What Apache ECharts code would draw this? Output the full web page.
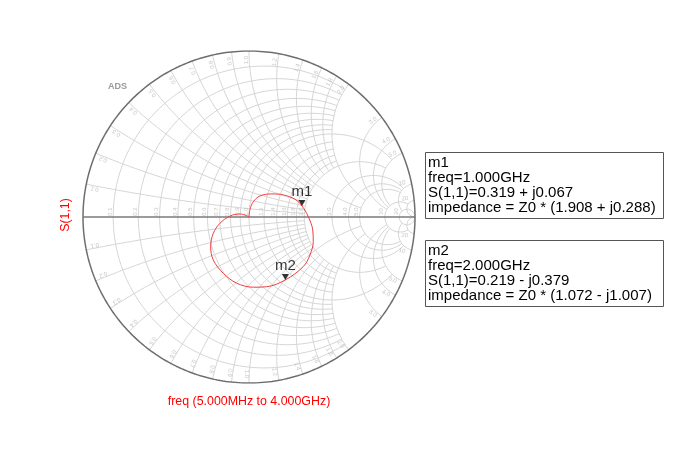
<!DOCTYPE html>
<html><head><meta charset="utf-8">
<script src="https://cdn.jsdelivr.net/npm/echarts@6/dist/echarts.min.js"></script>
<style>html,body{margin:0;padding:0;background:#fff}#c{width:682px;height:455px}</style>
</head><body><div id="c"></div>
<script>
// Smith chart grid values and the reactance/resistance limit each grid line is drawn to
const R_VALUES = [0.1,0.2,0.3,0.4,0.5,0.6,0.7,0.8,0.9,1.0,1.2,1.4,1.6,1.8,2.0,3.0,4.0,5.0,10,20];
const R_LIMITS = [2,2,2,2,2,2,2,2,2,5,2,2,2,2,5,10,10,10,20,Infinity];
const X_VALUES = [0.1,0.2,0.3,0.4,0.5,0.6,0.7,0.8,0.9,1.0,1.2,1.4,1.6,1.8,2.0,3.0,4.0,5.0,10,20];
const X_LIMITS = [2,2,2,2,2,2,2,2,2,5,2,2,2,2,5,10,10,10,20,Infinity];
const TICK_LABELS = ['0.1','0.2','0.3','0.4','0.5','0.6','0.7','0.8','0.9','1.0','1.2','1.4','1.6','1.8','2.0','3.0','4.0','5.0','10','20'];

// S(1,1) trace, 5 MHz to 4 GHz (real / imaginary parts of reflection coefficient)
const S11_RE = [0.000,0.006,0.026,0.066,0.137,0.207,0.277,0.319,0.357,0.384,0.387,0.367,0.327,0.219,0.107,0.026,-0.074,-0.155,-0.215,-0.231,-0.215,-0.175,-0.114,-0.054,-0.014,0.000];
const S11_IM = [0.000,0.046,0.092,0.127,0.139,0.133,0.107,0.067,0.002,-0.078,-0.149,-0.229,-0.299,-0.379,-0.420,-0.423,-0.399,-0.339,-0.259,-0.179,-0.098,-0.038,0.006,0.018,0.008,0.000];

// markers
const MARKER_NAMES = ['m1','m2'];
const MARKER_FREQ = ['1.000GHz','2.000GHz'];
const MARKER_RE = [0.319, 0.219];
const MARKER_IM = [0.067, -0.379];
const MARKER_ZR = [1.908, 1.072];
const MARKER_ZX = [0.288, -1.007];

const CX = 249, CY = 217, RAD = 166;

function gamma(r, x) {
  const a = r - 1, c = r + 1, den = c * c + x * x;
  return [(a * c + x * x) / den, (x * c - a * x) / den];
}

const GRID_COLOR = '#d4d4d4';
const series = [];

// resistance circles
R_VALUES.forEach((r, i) => {
  const lim = R_LIMITS[i];
  const aMax = isFinite(lim) ? Math.atan(lim) : Math.PI / 2 - 1e-7;
  const pts = [];
  const N = 240;
  for (let k = 0; k <= N; k++) {
    const a = -aMax + 2 * aMax * k / N;
    pts.push(gamma(r, Math.tan(a)));
  }
  series.push({type:'line', data: pts, showSymbol:false, silent:true, animation:false,
    lineStyle:{color:GRID_COLOR, width:1}, z:1});
});

// reactance arcs
X_VALUES.forEach((x, i) => {
  const lim = X_LIMITS[i];
  const tMax = isFinite(lim) ? lim / (1 + lim) : 1 - 1e-7;
  [1, -1].forEach(sg => {
    const pts = [];
    const N = 200;
    for (let k = 0; k <= N; k++) {
      const t = tMax * k / N;
      pts.push(gamma(t / (1 - t), sg * x));
    }
    series.push({type:'line', data: pts, showSymbol:false, silent:true, animation:false,
      lineStyle:{color:GRID_COLOR, width:1}, z:1});
  });
});

// outer circle
(function(){
  const pts = [];
  for (let k = 0; k <= 360; k++) {
    const a = k * Math.PI / 180;
    pts.push([Math.cos(a), Math.sin(a)]);
  }
  series.push({type:'line', data: pts, showSymbol:false, silent:true, animation:false,
    lineStyle:{color:'#6e6e6e', width:1.5}, z:3});
})();
// real axis
series.push({type:'line', data: [[-1,0],[1,0]], showSymbol:false, silent:true, animation:false,
  lineStyle:{color:'#7a7a7a', width:1.5}, z:3});

// grid labels
const labelData = [];
R_VALUES.forEach((r, i) => {
  const g = (r - 1) / (r + 1);
  labelData.push({value:[g - 3 / RAD, 5.5 / RAD], label:{formatter: TICK_LABELS[i], rotate: 90}});
});
X_VALUES.forEach((x, i) => {
  const th = Math.atan2(2 * x, x * x - 1);
  const off = 0.018, rr = 0.945;
  labelData.push({value:[rr * Math.cos(th + off), rr * Math.sin(th + off)],
    label:{formatter: TICK_LABELS[i], rotate: th * 180 / Math.PI}});
  labelData.push({value:[rr * Math.cos(-th - off), rr * Math.sin(-th - off)],
    label:{formatter: TICK_LABELS[i], rotate: -th * 180 / Math.PI}});
});
series.push({type:'scatter', data: labelData, symbolSize: 0, silent:true, animation:false, z:2,
  label:{show:true, position:'inside', fontSize:6, color:'#b8b8b8', fontFamily:'Arial, Liberation Sans'}});

// S11 trace
series.push({type:'line', name:'S(1,1)', data: S11_RE.map((v, i) => [v, S11_IM[i]]),
  showSymbol:false, smooth:0.35, silent:true, animation:false,
  lineStyle:{color:'#f03c3c', width:1}, z:5});

// markers
series.push({type:'scatter', animation:false, silent:true, z:6,
  data: MARKER_NAMES.map((n, i) => ({value:[MARKER_RE[i], MARKER_IM[i]], name:n})),
  symbol:'triangle', symbolRotate:180, symbolSize:[7,6], symbolOffset:[0,-3],
  itemStyle:{color:'#000'},
  label:{show:true, position:'top', distance:1, formatter: p => p.name,
    fontSize:15, color:'#000', fontFamily:'Arial, Liberation Sans'}});

// marker readout boxes
function fmt(v) { return v.toFixed(3); }
function cplx(re, im) { return fmt(re) + (im >= 0 ? ' + j' : ' - j') + fmt(Math.abs(im)); }
const BOX_TOPS = [152, 240];
const graphics = [];
MARKER_NAMES.forEach((n, i) => {
  const lines = [n, 'freq=' + MARKER_FREQ[i], 'S(1,1)=' + cplx(MARKER_RE[i], MARKER_IM[i]),
    'impedance = Z0 * (' + cplx(MARKER_ZR[i], MARKER_ZX[i]) + ')'];
  graphics.push({type:'rect', left:425, top:BOX_TOPS[i],
    shape:{width:238, height:66}, style:{fill:'#fff', stroke:'#555', lineWidth:1}});
  graphics.push({type:'text', left:428, top:BOX_TOPS[i] + 3,
    style:{text: lines.join('\n'), font:'15px Arial, "Liberation Sans"', lineHeight:15, fill:'#000'}});
});
graphics.push({type:'text', left:108, top:82, style:{text:'ADS', font:'bold 9px Arial, "Liberation Sans"', fill:'#9a9a9a'}});
graphics.push({type:'text', x:249, y:402, style:{text:'freq (5.000MHz to 4.000GHz)', font:'12.4px Arial, "Liberation Sans"', fill:'#ff0000', align:'center', verticalAlign:'middle'}});
graphics.push({type:'text', x:66, y:215, rotation:Math.PI/2, style:{text:'S(1,1)', font:'12.4px Arial, "Liberation Sans"', fill:'#ff0000', align:'center', verticalAlign:'middle'}});

const chart = echarts.init(document.getElementById('c'));
chart.setOption({
  animation:false,
  grid:{left:CX - RAD, top:CY - RAD, width:2 * RAD, height:2 * RAD, containLabel:false},
  xAxis:{type:'value', min:-1, max:1, show:false},
  yAxis:{type:'value', min:-1, max:1, show:false},
  series: series,
  graphic: graphics
});
</script></body></html>
